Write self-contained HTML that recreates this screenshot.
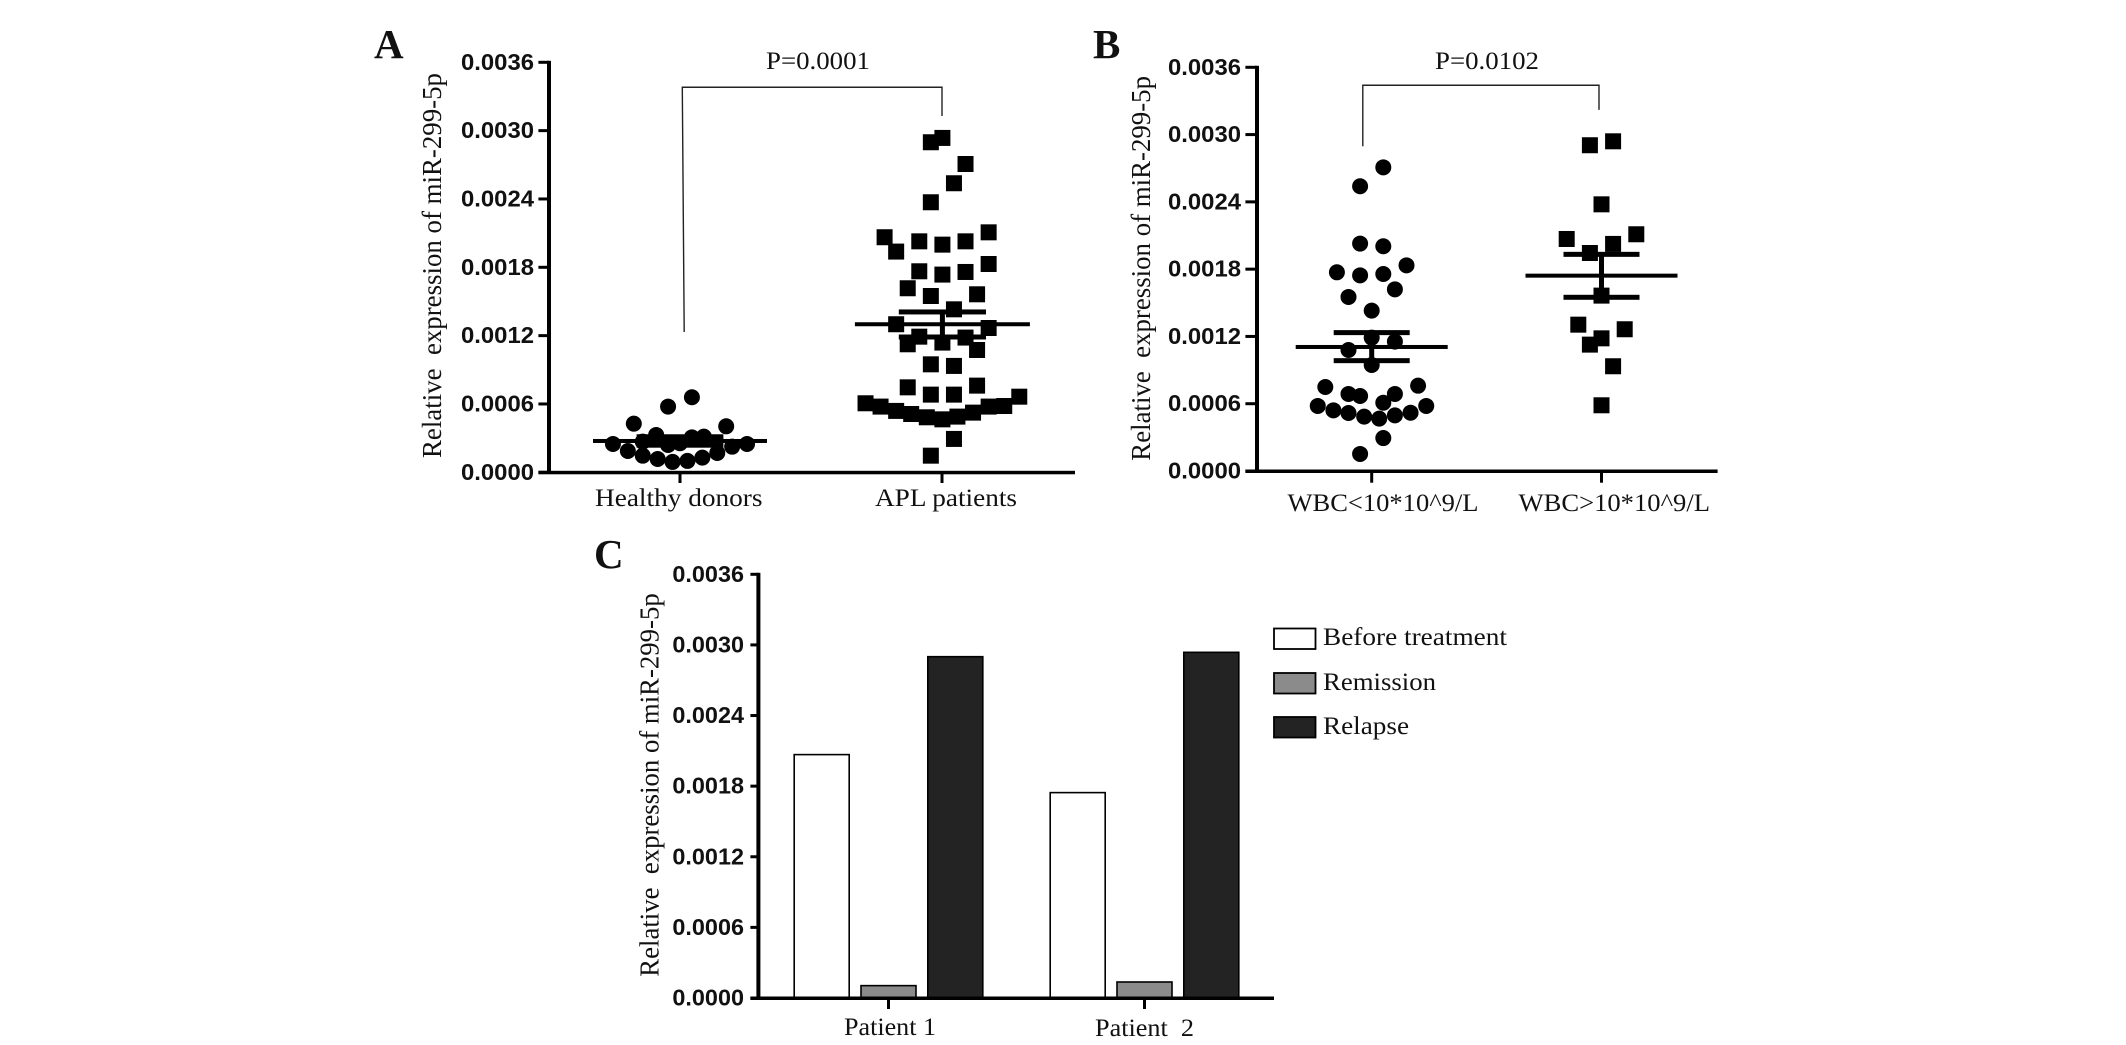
<!DOCTYPE html>
<html lang="en">
<head>
<meta charset="utf-8">
<title>Relative expression of miR-299-5p</title>
<style>
html,body{margin:0;padding:0;background:#fff;width:2126px;height:1045px;overflow:hidden}
svg{display:block}
text{fill:#111;white-space:pre}
.tick{font-family:"Liberation Sans",sans-serif;font-weight:bold;font-size:23px}
.serif{font-family:"Liberation Serif",serif;font-size:25px}
.title{font-family:"Liberation Serif",serif;font-size:27px}
.letter{font-family:"Liberation Serif",serif;font-weight:bold;font-size:41px}
</style>
</head>
<body>
<svg id="figure" xmlns="http://www.w3.org/2000/svg" width="2126" height="1045" viewBox="0 0 2126 1045"></svg>
<script>
// ---- data ----
const yTickValues = [0, 0.0006, 0.0012, 0.0018, 0.0024, 0.0030, 0.0036];
const yTickLabels = ['0.0000', '0.0006', '0.0012', '0.0018', '0.0024', '0.0030', '0.0036'];
const yAxisMax = 0.0036;

// Panel A
const panelACategories = ['Healthy donors', 'APL patients'];
const healthyValues = [0.000249,0.000187,0.000146,0.000117,0.000091,0.000100,0.000129,0.000170,0.000225,0.000249,0.000427,0.000404,0.000577,0.000659,0.000328,0.000307,0.000313,0.000240,0.000269,0.000255];
const healthySwarm = [-4.5,-3.5,-2.5,-1.5,-0.5,0.5,1.5,2.5,3.5,4.5,-3.1,3.1,-0.8,0.8,-1.6,0.8,1.6,-0.8,-2.5,0];
const healthyMean = 0.000275;
const healthySemLow = 0.000238;
const healthySemHigh = 0.000312;
const aplValues = [0.002936,0.002898,0.002707,0.002538,0.002371,0.002107,0.002064,0.002028,0.002028,0.001999,0.001938,0.001829,0.001765,0.001759,0.001736,0.001616,0.001563,0.001548,0.001431,0.001300,0.001267,0.001191,0.001183,0.001124,0.001139,0.001074,0.000948,0.000934,0.000761,0.000746,0.000682,0.000682,0.000664,0.000606,0.000577,0.000539,0.000512,0.000483,0.000465,0.000489,0.000524,0.000577,0.000582,0.000293,0.000146];
const aplSwarm = [0,-1,2,1,-1,4,-5,-2,2,0,-4,4,-2,2,0,-3,3,-1,1,-4,4,-2,2,-3,0,3,-1,1,3,-3,-1,1,6.65,-6.65,-5.35,-4,-2.7,-1.35,0,1.3,2.65,4,5.35,1,-1];
const aplMean = 0.001300;
const aplSemLow = 0.001188;
const aplSemHigh = 0.001408;
const panelAPLabel = 'P=0.0001';

// Panel B
const panelBCategories = ['WBC<10*10^9/L', 'WBC>10*10^9/L'];
const lowWbcValues = [0.002708,0.002539,0.002028,0.002004,0.001834,0.001772,0.001745,0.001757,0.001620,0.001552,0.001430,0.001189,0.001154,0.001079,0.000945,0.000749,0.000761,0.000687,0.000669,0.000687,0.000609,0.000580,0.000541,0.000517,0.000485,0.000467,0.000496,0.000520,0.000580,0.000294,0.000152];
const lowWbcSwarm = [1,-1,-1,1,3,-3,-1,1,2,-2,0,0,2,-2,0,-4,4,-2,-1,2,1,-4.65,-3.3,-2,-0.65,0.65,2,3.35,4.7,1,-1];
const lowWbcMean = 0.001106;
const lowWbcSemLow = 0.000984;
const lowWbcSemHigh = 0.001234;
const highWbcValues = [0.002940,0.002905,0.002378,0.002111,0.002069,0.002025,0.001944,0.001564,0.001305,0.001264,0.001183,0.001127,0.000934,0.000586];
const highWbcSwarm = [1,-1,0,3,-3,1,-1,0,-2,2,0,-1,1,0];
const highWbcMean = 0.001742;
const highWbcSemLow = 0.001549;
const highWbcSemHigh = 0.001932;
const panelBPLabel = 'P=0.0102';

// Panel C
const panelCCategories = ['Patient 1', 'Patient  2'];
const panelCSeriesNames = ['Before treatment', 'Remission', 'Relapse'];
const beforeTreatmentValues = [0.002068, 0.001745];
const remissionValues = [0.000105, 0.000136];
const relapseValues = [0.002900, 0.002937];

// ---- drawing helpers ----
const svg = document.getElementById('figure');
const NS = 'http://www.w3.org/2000/svg';
function make(parent, tag, attrs, content) {
  const el = document.createElementNS(NS, tag);
  for (const k in attrs) el.setAttribute(k, attrs[k]);
  if (content !== undefined) el.textContent = content;
  parent.appendChild(el);
  return el;
}
function group(parent, name) {
  const g = make(parent, 'g', {});
  
  
  return g;
}
function fitted(parent, x, y, width, text, cls, anchor) {
  return make(parent, 'text', {x: x, y: y, 'class': cls, 'text-anchor': anchor || 'start',
    textLength: width, lengthAdjust: 'spacingAndGlyphs'}, text);
}

function drawAxes(g, f) {
  const yScale = v => f.y0 - v / yAxisMax * (f.y0 - f.yTop);
  // y axis line
  const yLine = make(g, 'rect', {x: f.axisX - 2, y: f.yTop - 1.5, width: 4, height: f.y0 - f.yTop + 3, fill: '#000'});
  
  
  // x axis line
  const xLine = make(g, 'rect', {x: f.tickLeft, y: f.y0 - 1.5, width: f.xEnd - f.tickLeft, height: 3.5, fill: '#000'});
  
  
  yTickValues.forEach((v, i) => {
    const t = make(g, 'rect', {x: f.tickLeft, y: yScale(v) - 1.5, width: f.axisX - f.tickLeft, height: 3, fill: '#000'});
    
    
    const l = fitted(g, f.labelRight, yScale(v) + 7.5, f.labelWidth, yTickLabels[i], 'tick', 'end');
    
    
  });
  // y title
  const mid = (f.titleTop + f.titleBottom) / 2;
  const title = make(g, 'text', {x: 0, y: 0, 'class': 'title', 'text-anchor': 'middle',
    transform: 'translate(' + f.titleX + ',' + mid + ') rotate(-90)',
    textLength: f.titleBottom - f.titleTop, lengthAdjust: 'spacingAndGlyphs'},
    'Relative  expression of miR-299-5p');
  
  
  // panel letter
  const letter = make(g, 'text', {x: f.letterX, y: f.letterY, 'class': 'letter'}, f.letter);
  
  
  return yScale;
}

function drawXTicks(g, f, categories) {
  categories.forEach((c, i) => {
    const x = f.firstX + i * f.xStep;
    const t = make(g, 'rect', {x: x - 1.5, y: f.y0, width: 3, height: f.tickBottom - f.y0, fill: '#000'});
    
    
    const l = fitted(g, f.catLabels[i].x, f.catLabels[i].y, f.catLabels[i].w, c, 'serif');
    
    
  });
}

function drawSwarm(g, cx, slot, values, swarm, yScale, shape, name) {
  values.forEach((v, i) => {
    const x = cx + swarm[i] * slot;
    const y = yScale(v);
    let m;
    if (shape === 'circle') {
      m = make(g, 'ellipse', {cx: x, cy: y, rx: 8, ry: 8, fill: '#000'});
    } else {
      m = make(g, 'rect', {x: x - 8, y: y - 8, width: 16, height: 16, fill: '#000'});
    }
    
    
  });
}

function drawSummary(g, cx, meanHalf, capHalf, mean, low, high, yScale, name) {
  const ym = yScale(mean), yl = yScale(low), yh = yScale(high);
  const a = make(g, 'rect', {x: cx - meanHalf, y: ym - 2, width: meanHalf * 2, height: 4, fill: '#000'});
  
  
  const b = make(g, 'rect', {x: cx - 2.5, y: yh, width: 5, height: yl - yh, fill: '#000'});
  
  
  const c = make(g, 'rect', {x: cx - capHalf, y: yh - 2.5, width: capHalf * 2, height: 5, fill: '#000'});
  
  
  const d = make(g, 'rect', {x: cx - capHalf, y: yl - 2.5, width: capHalf * 2, height: 5, fill: '#000'});
  
  
}

function drawBracket(g, f, yScale, label) {
  const b = f.bracket;
  const yt = yScale(b.top);
  const p = make(g, 'path', {d: 'M' + b.leftBottomX + ' ' + yScale(b.leftBottom) + 'L' + b.leftTopX + ' ' + yt + 'L' + b.rightX + ' ' + yt + 'L' + b.rightX + ' ' + yScale(b.rightBottom),
    fill: 'none', stroke: '#222', 'stroke-width': 1.4});
  
  
  const t = fitted(g, b.textX, b.textY, 104, label, 'serif');
  
  
}

// ---- Panel A ----
const frameA = {axisX: 549, yTop: 62.3, y0: 472.3, xEnd: 1075, tickLeft: 538.4, tickBottom: 483,
  labelRight: 534, labelWidth: 73, titleX: 441, titleTop: 73, titleBottom: 458,
  letter: 'A', letterX: 374, letterY: 58, firstX: 680, xStep: 262,
  catLabels: [{x: 595, y: 506, w: 167.5}, {x: 875, y: 506, w: 142}],
  bracket: {top: 0.003381, leftBottom: 0.001232, rightBottom: 0.003129, leftTopX: 682.3, leftBottomX: 684.2, rightX: 942, textX: 766, textY: 69}};
const gA = group(svg, 'panel-a');
const yA = drawAxes(gA, frameA);
drawXTicks(gA, frameA, panelACategories);
drawSwarm(gA, frameA.firstX, 14.9, healthyValues, healthySwarm, yA, 'circle', 'point-healthy-donor');
drawSwarm(gA, frameA.firstX + frameA.xStep + 0.4, 11.56, aplValues, aplSwarm, yA, 'square', 'point-apl-patient');
drawSummary(gA, frameA.firstX, 87, 43.4, healthyMean, healthySemLow, healthySemHigh, yA, 'healthy');
drawSummary(gA, frameA.firstX + frameA.xStep + 0.4, 87.5, 43.6, aplMean, aplSemLow, aplSemHigh, yA, 'apl');
drawBracket(gA, frameA, yA, panelAPLabel);

// ---- Panel B ----
const frameB = {axisX: 1257, yTop: 67.3, y0: 471, xEnd: 1717.6, tickLeft: 1245.4, tickBottom: 482.7,
  labelRight: 1241, labelWidth: 73, titleX: 1150, titleTop: 76, titleBottom: 460.7,
  letter: 'B', letterX: 1093, letterY: 58, firstX: 1371.7, xStep: 229.8,
  catLabels: [{x: 1287.5, y: 511, w: 191}, {x: 1518.5, y: 511, w: 191.5}],
  bracket: {top: 0.00344, leftBottom: 0.002896, rightBottom: 0.00322, leftTopX: 1362.8, leftBottomX: 1362.8, rightX: 1599, textX: 1435, textY: 69}};
const gB = group(svg, 'panel-b');
const yB = drawAxes(gB, frameB);
drawXTicks(gB, frameB, panelBCategories);
drawSwarm(gB, frameB.firstX, 11.6, lowWbcValues, lowWbcSwarm, yB, 'circle', 'point-wbc-low');
drawSwarm(gB, frameB.firstX + frameB.xStep, 11.6, highWbcValues, highWbcSwarm, yB, 'square', 'point-wbc-high');
drawSummary(gB, frameB.firstX, 76, 38, lowWbcMean, lowWbcSemLow, lowWbcSemHigh, yB, 'wbc-low');
drawSummary(gB, frameB.firstX + frameB.xStep, 76, 38, highWbcMean, highWbcSemLow, highWbcSemHigh, yB, 'wbc-high');
drawBracket(gB, frameB, yB, panelBPLabel);

// ---- Panel C ----
const frameC = {axisX: 758.4, yTop: 574.3, y0: 998, xEnd: 1274, tickLeft: 750.4, tickBottom: 1009,
  labelRight: 744, labelWidth: 71.6, titleX: 658.5, titleTop: 593.3, titleBottom: 976.7,
  letter: 'C', letterX: 594, letterY: 568, firstX: 888.5, xStep: 256,
  catLabels: [{x: 844, y: 1035, w: 92}, {x: 1095, y: 1036, w: 99}]};
const gC = group(svg, 'panel-c');
const barFills = ['#ffffff', '#8b8b8b', '#232323'];
const barSeries = [beforeTreatmentValues, remissionValues, relapseValues];
const yC = v => frameC.y0 - v / yAxisMax * (frameC.y0 - frameC.yTop);
barSeries.forEach((vals, s) => {
  vals.forEach((v, c) => {
    const cx = frameC.firstX + c * frameC.xStep + (s - 1) * 66.8;
    const bar = make(gC, 'rect', {x: cx - 27.5, y: yC(v), width: 55, height: frameC.y0 - yC(v),
      fill: barFills[s], stroke: '#000', 'stroke-width': 1.6});
    
    
  });
});
drawAxes(gC, frameC);
drawXTicks(gC, frameC, panelCCategories);

const legend = group(gC, 'legend');
const legendWidths = [184, 113, 86];
const legendTop = [628.5, 673, 717];
const legendBase = [645, 690, 734];
panelCSeriesNames.forEach((n, i) => {
  const sw = make(legend, 'rect', {x: 1274, y: legendTop[i], width: 41.5, height: 20.5,
    fill: barFills[i], stroke: '#000', 'stroke-width': 1.8});
  
  
  const t = fitted(legend, 1323, legendBase[i], legendWidths[i], n, 'serif');
  
  
});
</script>
</body>
</html>
